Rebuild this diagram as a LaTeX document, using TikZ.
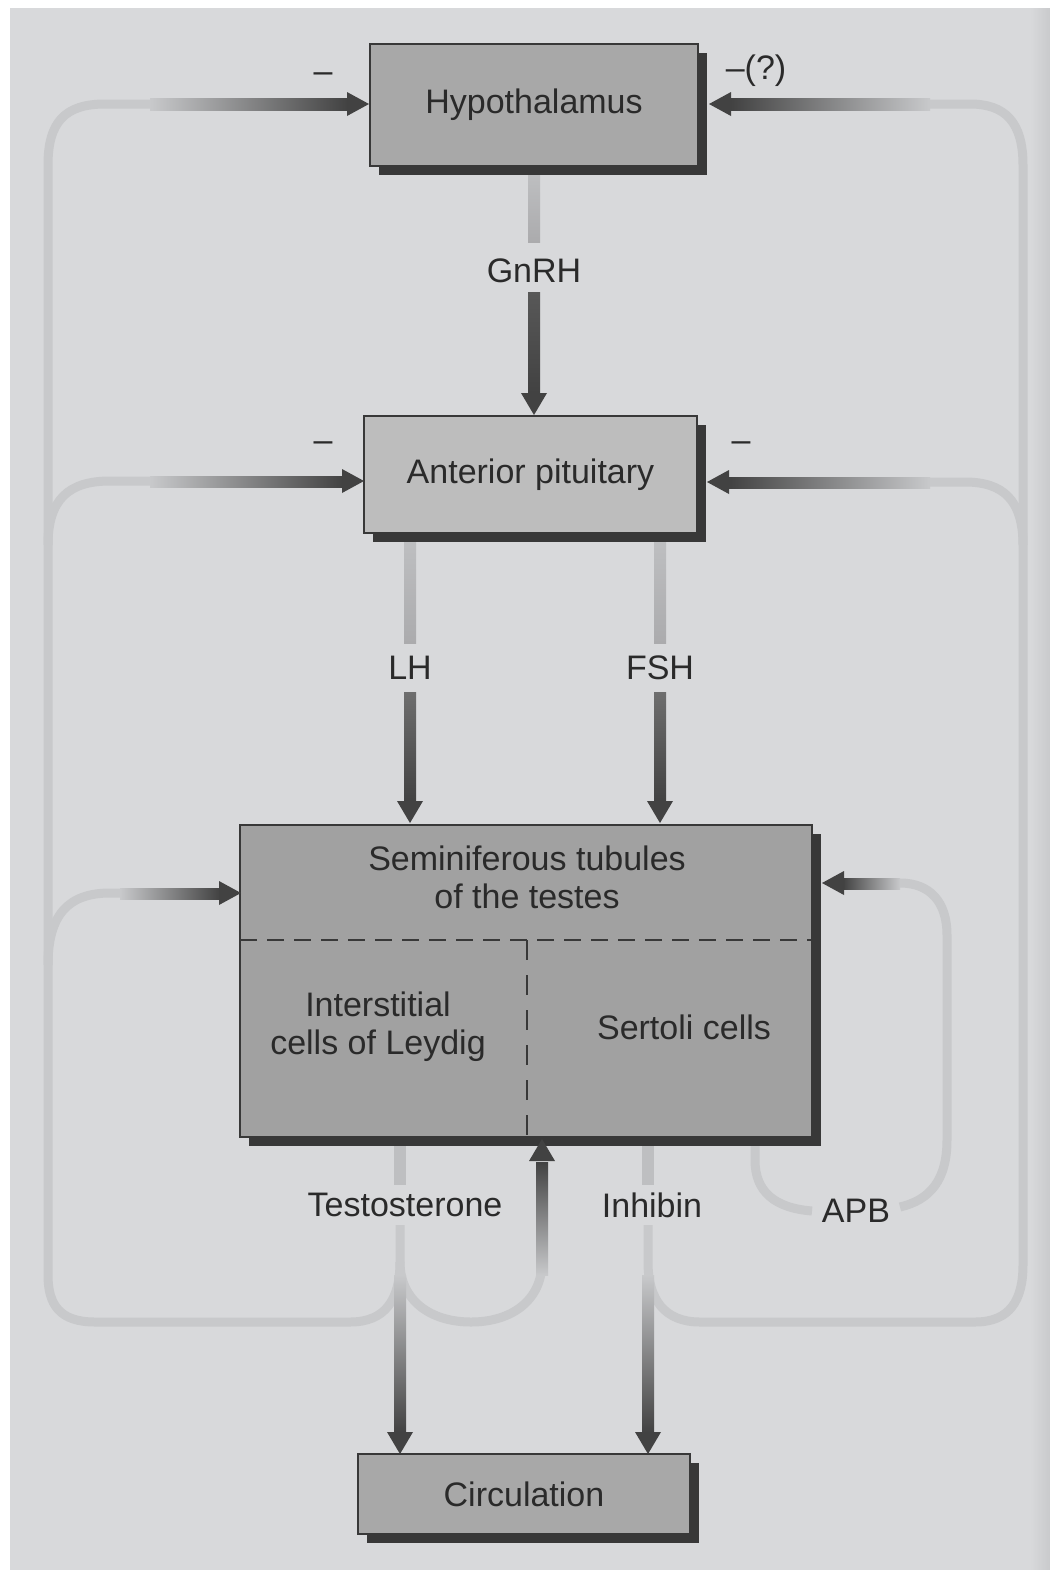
\documentclass[tikz,border=0pt]{standalone}
\usepackage{fontspec}
\setmainfont{Liberation Sans}
\usetikzlibrary{calc,shadows}
\definecolor{bg}{HTML}{D8D9DB}
\definecolor{bgedge}{HTML}{C9CACC}
\definecolor{fb}{HTML}{C8C9CB}
\definecolor{stub}{HTML}{BEBFC1}
\definecolor{stubdk}{HTML}{ABABAD}
\definecolor{dk}{HTML}{424242}
\definecolor{md}{HTML}{6E6E6E}
\definecolor{boxA}{HTML}{A8A8A8}
\definecolor{boxB}{HTML}{BDBDBD}
\definecolor{boxC}{HTML}{A1A1A1}
\definecolor{shd}{HTML}{383838}
\definecolor{txt}{HTML}{2A2A2A}
\newcommand\headR[1]{\fill[dk] (#1) -- ++(-22,-12) -- ++(0,24) -- cycle;}
\newcommand\headL[1]{\fill[dk] (#1) -- ++(22,-12) -- ++(0,24) -- cycle;}
\newcommand\headD[1]{\fill[dk] (#1) -- ++(-13,-22) -- ++(26,0) -- cycle;}
\newcommand\headU[1]{\fill[dk] (#1) -- ++(-13,22) -- ++(26,0) -- cycle;}
\begin{document}
\begin{tikzpicture}[x=0.5pt,y=-0.5pt,
  box/.style={draw=shd,line width=0.8pt,fill=boxA,text=txt,
    font=\fontsize{17}{19}\selectfont,align=center,inner sep=0pt,
    general shadow={fill=shd,shadow xshift=4.5pt,shadow yshift=-4.5pt}},
  lab/.style={text=txt,font=\fontsize{17}{19}\selectfont,inner sep=1pt,align=center},
  fbline/.style={draw=fb,line width=4.5pt},
  divline/.style={draw=shd,line width=0.9pt},
]
\useasboundingbox (0,0) rectangle (1050,1570);
\fill[white] (0,0) rectangle (1050,1570);
\fill[bg] (10,8) rectangle (1050,1570);
\shade[left color=bg,right color=bgedge] (1030,8) rectangle (1050,1570);

% ---- feedback lines (light) ----
% testosterone -> hypothalamus / pituitary / tubules (left)
\draw[fbline] (400,1225) -- (400,1262) .. controls (400,1300) and (385,1322) .. (350,1322)
  -- (95,1322) .. controls (60,1322) and (48,1305) .. (48,1275)
  -- (48,165) .. controls (48,122) and (65,104) .. (105,104) -- (150,104);
\draw[fbline] (48,545) .. controls (48,500) and (68,481) .. (110,481) -- (150,481);
\draw[fbline] (48,965) .. controls (48,915) and (68,893) .. (110,893) -- (120,893);
% testosterone -> tubules (U turn)
\draw[fbline] (400,1262) .. controls (400,1300) and (430,1322) .. (471,1322)
  .. controls (512,1322) and (542,1300) .. (542,1262);
% inhibin -> pituitary / hypothalamus (right)
\draw[fbline] (648,1225) -- (648,1262) .. controls (648,1300) and (665,1322) .. (700,1322)
  -- (975,1322) .. controls (1010,1322) and (1023,1300) .. (1023,1265)
  -- (1023,165) .. controls (1023,122) and (1005,104) .. (970,104) -- (930,104);
\draw[fbline] (1023,545) .. controls (1023,500) and (1003,482) .. (965,482) -- (930,482);
% APB
\draw[fbline] (755,1140) -- (755,1160) .. controls (755,1192) and (775,1208) .. (812,1211);
\draw[fbline] (900,1207) .. controls (930,1200) and (947,1180) .. (947,1140)
  -- (947,935) .. controls (947,902) and (930,883) .. (900,883);

% ---- shaded arrow segments ----
\shade[left color=fb,right color=dk] (150,98) rectangle (348,110);
\shade[left color=fb,right color=dk] (150,476) rectangle (343,487);
\shade[left color=fb,right color=dk] (120,888) rectangle (220,899);
\shade[left color=dk,right color=fb] (731,98) rectangle (930,110);
\shade[left color=dk,right color=fb] (729,477) rectangle (930,488);
\shade[left color=dk,right color=fb] (843,878) rectangle (900,889);
% GnRH
\shade[top color=stub,bottom color=stubdk] (528,172) rectangle (540,242);
\shade[top color=md!80!black,bottom color=dk] (528,292) rectangle (540,393);
% LH / FSH
\shade[top color=stub,bottom color=stubdk] (404,540) rectangle (416,643);
\shade[top color=md,bottom color=dk] (404,692) rectangle (416,801);
\shade[top color=stub,bottom color=stubdk] (654,540) rectangle (666,643);
\shade[top color=md,bottom color=dk] (654,692) rectangle (666,801);
% testosterone / inhibin to circulation
\fill[stub] (394,1140) rectangle (406,1185);
\shade[top color=fb,bottom color=dk] (394,1275) rectangle (406,1432);
\fill[stub] (642,1140) rectangle (654,1185);
\shade[top color=fb,bottom color=dk] (642,1275) rectangle (654,1432);
% upward arrow to tubules
\shade[top color=dk,bottom color=fb] (536,1162) rectangle (548,1275);

% ---- boxes ----
\node[box,minimum width=164pt,minimum height=61pt] (hyp) at (534,105) {Hypothalamus};
\node[box,fill=boxB,minimum width=166.5pt,minimum height=58.5pt] (pit) at (530.5,474.5) {Anterior pituitary};
\node[box,fill=boxC,minimum width=286pt,minimum height=156pt] (sem) at (526,981) {};
\node[box,minimum width=166pt,minimum height=40pt] (circ) at (524,1494) {Circulation};

\draw[divline,dash pattern=on 8.5pt off 5pt] (240,940) -- (812,940);
\draw[divline,dash pattern=on 10pt off 7.5pt] (527,940) -- (527,1137);
\node[lab] (semt) at (527,877) {Seminiferous tubules\\of the testes};
\node[lab] (leyd) at (378,1027) {Interstitial\\cells of Leydig};
\node[lab] (sert) at (684,1027) {Sertoli cells};

% ---- arrow heads ----
\headR{369,104}
\headR{364,481}
\headR{241,893}
\headL{709,104}
\headL{707,482}
\headL{822,883}
\headD{534,415}
\headD{410,823}
\headD{660,823}
\headD{400,1454}
\headD{648,1454}
\headU{542,1139}

% ---- labels ----
\node[lab] (gnrh) at (534,271) {GnRH};
\node[lab] (lh) at (410,668) {LH};
\node[lab] (fsh) at (660,668) {FSH};
\node[lab] (testo) at (405,1205) {Testosterone};
\node[lab] (inh) at (652,1205) {Inhibin};
\node[lab] (apb) at (856,1211) {APB};
\node[lab] (m1) at (323,78) {–};
\node[lab] (m2) at (756,71) {–(?)};
\node[lab] (m3) at (323,447) {–};
\node[lab] (m4) at (741,447) {–};
\end{tikzpicture}
\end{document}
